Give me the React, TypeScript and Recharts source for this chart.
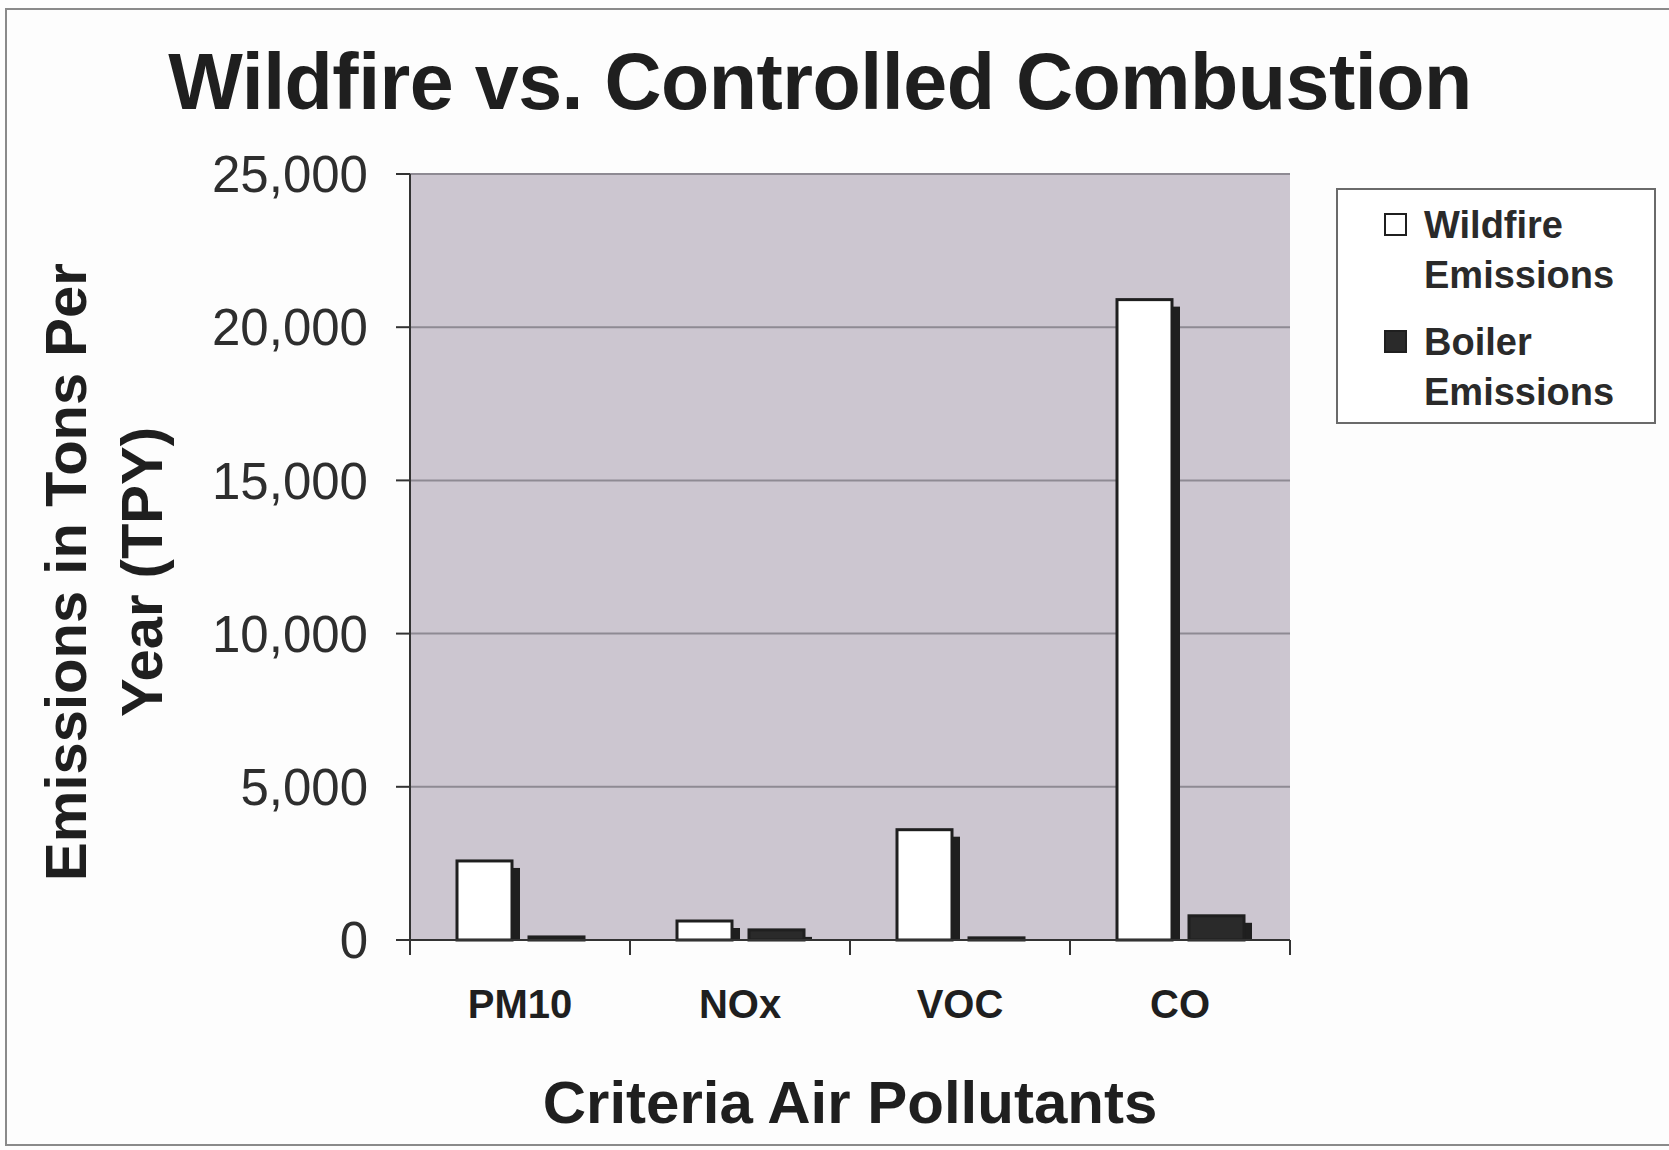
import { BarChart, Bar, XAxis, YAxis, CartesianGrid, Legend } from 'recharts'

const pollutants = ['PM10', 'NOx', 'VOC', 'CO']
const wildfireEmissions = [2580, 620, 3600, 20900]
const boilerEmissions = [100, 330, 70, 790]
const seriesNames = ['Wildfire Emissions', 'Boiler Emissions']
const yTicks = [0, 5000, 10000, 15000, 20000, 25000]

const data = pollutants.map((p, i) => ({
  pollutant: p,
  wildfire: wildfireEmissions[i],
  boiler: boilerEmissions[i],
}))

const FONT = '"Liberation Sans", Arial, sans-serif'
const INK = '#1f1f1f'
const X_TICK_MARGIN = 50

// bar with a drop shadow to the lower right, like the old Excel 3D look
function ShadowBar(props: any) {
  const { x, y, width, height, fill } = props
  const dx = 8
  const dy = 7
  return (
    <g>
      <rect x={x + dx} y={y + dy} width={width} height={Math.max(height - dy, 0)} fill={INK} />
      <rect x={x} y={y} width={width} height={height} fill={fill} stroke={INK} strokeWidth={3} />
    </g>
  )
}

// category label plus tick marks on the category boundaries (Excel style)
function CategoryTick(props: any) {
  const { x, y, payload, index, visibleTicksCount, width } = props
  const band = width / visibleTicksCount
  const axisY = y - X_TICK_MARGIN
  const left = x - band / 2
  return (
    <g>
      <line x1={left} y1={axisY} x2={left} y2={axisY + 15} stroke="#333" strokeWidth={2} />
      {index === visibleTicksCount - 1 && (
        <line x1={left + band} y1={axisY} x2={left + band} y2={axisY + 15} stroke="#333" strokeWidth={2} />
      )}
      <text
        x={x}
        y={y}
        dy="0.71em"
        textAnchor="middle"
        fontFamily={FONT}
        fontWeight="bold"
        fontSize={40}
        fill={INK}
      >
        {payload.value}
      </text>
    </g>
  )
}

function YLabel() {
  const cy = 572
  const x = 86
  return (
    <text
      transform={`rotate(-90, ${x}, ${cy})`}
      x={x}
      y={cy}
      textAnchor="middle"
      fontFamily={FONT}
      fontWeight="bold"
      fontSize={58}
      fill={INK}
    >
      <tspan x={x} dy={0}>Emissions in Tons Per</tspan>
      <tspan x={x} dy={76}>Year (TPY)</tspan>
    </text>
  )
}

function LegendBox(props: any) {
  const items = [...(props.payload || [])].sort(
    (a: any, b: any) => seriesNames.indexOf(a.value) - seriesNames.indexOf(b.value)
  )
  return (
    <div
      style={{
        border: '2px solid #6a6a6a',
        background: '#fff',
        boxSizing: 'border-box',
        width: 320,
        height: 236,
        padding: '10px 0 0 46px',
        fontFamily: FONT,
        fontWeight: 'bold',
        fontSize: 38,
        color: '#2a2a2a',
        lineHeight: '50px',
      }}
    >
      {items.map((it: any, i: number) => (
        <div key={i} style={{ display: 'flex', alignItems: 'flex-start', marginBottom: 17 }}>
          <div
            style={{
              width: 23,
              height: 23,
              marginTop: 13,
              marginRight: 17,
              boxSizing: 'border-box',
              border: `2px solid ${INK}`,
              background: it.payload.fill,
              flexShrink: 0,
            }}
          />
          <div style={{ width: 200 }}>{it.value}</div>
        </div>
      ))}
    </div>
  )
}

export default function App() {
  return (
    <div style={{ position: 'absolute', left: 0, top: 0, width: 1669, height: 1150, overflow: 'hidden', background: '#fdfdfd' }}>
      <div
        style={{
          position: 'absolute',
          left: 5,
          top: 8,
          width: 1700,
          height: 1138,
          border: '2px solid #8a8a8a',
          boxSizing: 'border-box',
        }}
      />
      <div
        style={{
          position: 'absolute',
          left: 0,
          top: 42,
          width: 1640,
          textAlign: 'center',
          fontFamily: FONT,
          fontWeight: 'bold',
          fontSize: 79,
          lineHeight: '80px',
          letterSpacing: -0.5,
          color: INK,
          whiteSpace: 'nowrap',
        }}
      >
        Wildfire vs. Controlled Combustion
      </div>
      <div style={{ position: 'absolute', left: 0, top: 0 }}>
        <BarChart
          width={1669}
          height={1150}
          data={data}
          margin={{ top: 174, right: 379, bottom: 130, left: 0 }}
          barSize={55}
          barGap={17}
        >
          <CartesianGrid vertical={false} fill="#ccc6d0" stroke="#8e8a93" strokeWidth={2} />
          <XAxis
            dataKey="pollutant"
            height={80}
            interval={0}
            axisLine={{ stroke: '#333', strokeWidth: 2 }}
            tickLine={false}
            tickSize={0}
            tickMargin={X_TICK_MARGIN}
            tick={<CategoryTick />}
            label={{
              value: 'Criteria Air Pollutants',
              position: 'insideBottom',
              offset: -103,
              style: { fontFamily: FONT, fontWeight: 'bold', fontSize: 60, fill: INK },
            }}
          />
          <YAxis
            width={410}
            domain={[0, 25000]}
            ticks={yTicks}
            tickSize={14}
            tickMargin={28}
            tickFormatter={(v: number) => v.toLocaleString('en-US')}
            axisLine={{ stroke: '#333', strokeWidth: 2 }}
            tickLine={{ stroke: '#333', strokeWidth: 2 }}
            tick={{ fontFamily: FONT, fontSize: 51, fill: '#2e2e2e' }}
            label={<YLabel />}
          />
          <Legend
            layout="vertical"
            align="center"
            verticalAlign="middle"
            wrapperStyle={{ left: 1336, top: 188, width: 320, height: 236 }}
            content={<LegendBox />}
          />
          <Bar dataKey="wildfire" name={seriesNames[0]} fill="#ffffff" shape={<ShadowBar />} isAnimationActive={false} />
          <Bar dataKey="boiler" name={seriesNames[1]} fill="#2a2a2a" shape={<ShadowBar />} isAnimationActive={false} />
        </BarChart>
      </div>
    </div>
  )
}
